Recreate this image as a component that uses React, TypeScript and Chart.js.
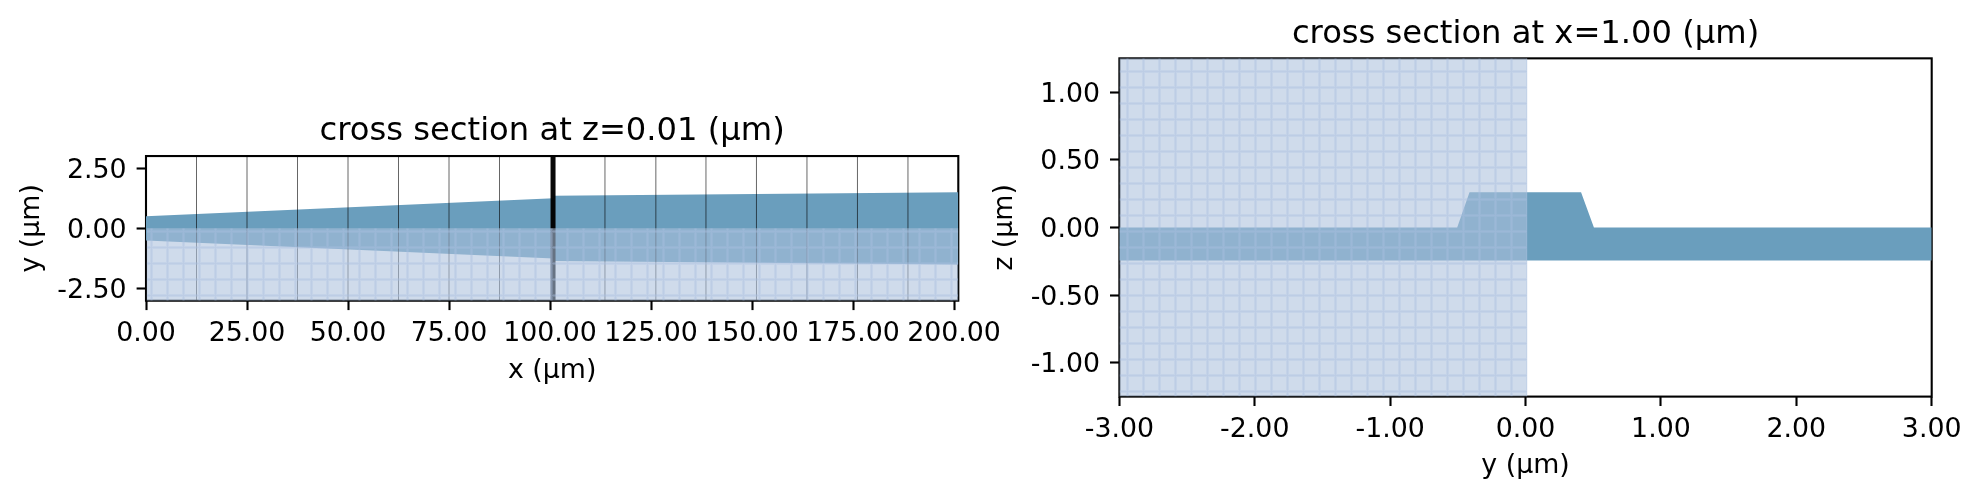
import React, { useEffect, useRef } from "react";
import { Chart, registerables } from "chart.js";

Chart.register(...registerables);

// ---- left panel: cross section at z
const leftTitle = "cross section at z=0.01 (µm)";
const leftXLabel = "x (µm)";
const leftYLabel = "y (µm)";
const leftXTicks = [0, 25, 50, 75, 100, 125, 150, 175, 200];
const leftYTicks = [-2.5, 0, 2.5];
const leftXRange = [0, 201.06];
const leftYRange = [-3, 3];
const taperX = [0, 100.9, 100.9, 201.06, 201.06, 100.9, 100.9, 0];
const taperY = [0.5, 1.25, 1.35, 1.5, -1.5, -1.35, -1.25, -0.5];
const leftRegionX = [0.2, 201.06, 201.06, 0.2];
const leftRegionY = [0.01, 0.01, -3, -3];
const meshLinesX = [12.5, 25, 37.5, 50, 62.5, 75, 87.5, 113.6, 126.2, 138.6, 151.1, 163.6, 176.1, 188.6];
const denseMeshX = [100.75];

// ---- right panel: cross section at x
const rightTitle = "cross section at x=1.00 (µm)";
const rightXLabel = "y (µm)";
const rightYLabel = "z (µm)";
const rightXTicks = [-3, -2, -1, 0, 1, 2, 3];
const rightYTicks = [-1, -0.5, 0, 0.5, 1];
const rightXRange = [-3, 3];
const rightYRange = [-1.25, 1.25];
const ridgeX = [-3, -0.505, -0.414, 0.41, 0.505, 3, 3, -3];
const ridgeY = [0, 0, 0.26, 0.26, 0, 0, -0.245, -0.245];
const rightRegionX = [-3, 0.012, 0.012, -3];
const rightRegionY = [1.25, 1.25, -1.25, -1.25];

const FONT = "'DejaVu Sans', sans-serif";
const TICK_PX = 26.8;
const TITLE_PX = 32.2;
const INK = "#000000";
const SOLID = "#6a9ebd";

function zip(xs: number[], ys: number[]) {
  return xs.map((x, i) => ({ x, y: ys[i] }));
}

function hatchPattern(centerX: number, centerY: number) {
  const size = 16;
  const tile = document.createElement("canvas");
  tile.width = size;
  tile.height = size;
  const c = tile.getContext("2d")!;
  const img = c.createImageData(size, size);
  const weight = (i: number, center: number) => {
    const raw = Math.abs(i - center);
    const d = Math.min(raw, size - raw);
    return d === 0 ? 1 : d === 1 ? 0.6 : 0;
  };
  for (let y = 0; y < size; y++) {
    for (let x = 0; x < size; x++) {
      const w = Math.max(weight(x, centerX), weight(y, centerY));
      const k = (y * size + x) * 4;
      img.data[k] = 172 - w;
      img.data[k + 1] = 193 - 2 * w;
      img.data[k + 2] = 221 + w;
      img.data[k + 3] = 255 * (0.58 + 0.2 * w);
    }
  }
  c.putImageData(img, 0, 0);
  return c.createPattern(tile, "repeat")!;
}

function verticals(xs: number[], yr: number[]) {
  const out: { x: number; y: number }[] = [];
  xs.forEach((x) => {
    out.push({ x, y: yr[0] }, { x, y: yr[1] }, { x, y: NaN });
  });
  return out;
}

const framePlugin = {
  id: "frame",
  beforeDatasetsDraw(chart: any) {
    const { ctx, chartArea: a } = chart;
    ctx.save();
    ctx.strokeStyle = INK;
    ctx.lineWidth = 2.1;
    ctx.strokeRect(a.left, a.top, a.right - a.left, a.bottom - a.top);
    ctx.restore();
  },
};

type PanelProps = {
  left: number;
  width: number;
  hatchX: number;
  title: string;
  xLabel: string;
  yLabel: string;
  xTicks: number[];
  yTicks: number[];
  xRange: number[];
  yRange: number[];
  shapeX: number[];
  shapeY: number[];
  regionX: number[];
  regionY: number[];
  lines: number[];
  dense: number[];
  padding: { left: number; right: number; top: number; bottom: number };
  yWidth: number;
  xHeight: number;
  titleGap: number;
};

function Panel(p: PanelProps) {
  const ref = useRef<HTMLCanvasElement>(null);
  useEffect(() => {
    const axisCommon = {
      type: "linear",
      border: { display: false },
      grid: {
        drawOnChartArea: false,
        drawTicks: true,
        tickLength: 9.4,
        tickWidth: 2.1,
        tickColor: INK,
      },
    };
    const tick = (v: any) => Number(v).toFixed(2);
    const chart = new Chart(ref.current!, {
      type: "scatter",
      data: {
        datasets: [
          {
            label: "region",
            data: zip(p.regionX, p.regionY),
            showLine: true,
            fill: "shape",
            backgroundColor: hatchPattern(p.hatchX, 7),
            borderWidth: 0,
            pointRadius: 0,
            order: 0,
          },
          {
            label: "mesh",
            data: verticals(p.lines, p.yRange),
            showLine: true,
            fill: false,
            borderColor: "rgba(0,0,0,0.6)",
            borderWidth: 1,
            pointRadius: 0,
            order: 1,
          },
          {
            label: "dense mesh",
            data: verticals(p.dense, p.yRange),
            showLine: true,
            fill: false,
            borderColor: "rgba(0,0,0,0.97)",
            borderWidth: 5,
            pointRadius: 0,
            order: 2,
          },
          {
            label: "waveguide",
            data: zip(p.shapeX, p.shapeY),
            showLine: true,
            fill: "shape",
            backgroundColor: SOLID,
            borderWidth: 0,
            pointRadius: 0,
            order: 3,
          },
        ],
      },
      options: {
        animation: false,
        responsive: false,
        devicePixelRatio: 1,
        events: [],
        layout: { autoPadding: false, padding: p.padding },
        plugins: {
          legend: { display: false },
          tooltip: { enabled: false },
          title: {
            display: true,
            text: p.title,
            fullSize: false,
            color: INK,
            font: { family: FONT, size: TITLE_PX, weight: "normal", lineHeight: 1.2 },
            padding: { top: 0, bottom: p.titleGap },
          },
        },
        scales: {
          x: {
            ...axisCommon,
            min: p.xRange[0],
            max: p.xRange[1],
            afterFit: (s: any) => {
              s.height = p.xHeight;
            },
            afterBuildTicks: (s: any) => {
              s.ticks = p.xTicks.map((value) => ({ value }));
            },
            ticks: {
              callback: tick,
              color: INK,
              autoSkip: false,
              maxRotation: 0,
              padding: 8,
              font: { family: FONT, size: TICK_PX },
            },
            title: {
              display: true,
              text: p.xLabel,
              color: INK,
              padding: 0,
              font: { family: FONT, size: TICK_PX, lineHeight: 1.2 },
            },
          },
          y: {
            ...axisCommon,
            min: p.yRange[0],
            max: p.yRange[1],
            afterFit: (s: any) => {
              s.width = p.yWidth;
            },
            afterBuildTicks: (s: any) => {
              s.ticks = p.yTicks.map((value) => ({ value }));
            },
            ticks: {
              callback: tick,
              color: INK,
              autoSkip: false,
              padding: 10,
              labelOffset: 2.5,
              font: { family: FONT, size: TICK_PX },
            },
            title: {
              display: true,
              text: p.yLabel,
              color: INK,
              padding: 0,
              font: { family: FONT, size: TICK_PX, lineHeight: 1.2 },
            },
          },
        },
      },
      plugins: [framePlugin],
    } as any);
    return () => chart.destroy();
  }, []);
  return (
    <canvas
      ref={ref}
      width={p.width}
      height={500}
      style={{ position: "absolute", left: p.left, top: 0, width: p.width, height: 500, display: "block" }}
    />
  );
}

export default function App() {
  return (
    <div style={{ position: "absolute", left: 0, top: 0, width: 1980, height: 500, background: "#ffffff", overflow: "hidden" }}>
      <Panel
        left={0}
        width={1010}
        hatchX={7}
        title={leftTitle}
        xLabel={leftXLabel}
        yLabel={leftYLabel}
        xTicks={leftXTicks}
        yTicks={leftYTicks}
        xRange={leftXRange}
        yRange={leftYRange}
        shapeX={taperX}
        shapeY={taperY}
        regionX={leftRegionX}
        regionY={leftRegionY}
        lines={meshLinesX}
        dense={denseMeshX}
        padding={{ left: 15.5, right: 51.7, top: 112.2, bottom: 112.8 }}
        yWidth={130.5}
        xHeight={86.5}
        titleGap={5.2}
      />
      <Panel
        left={970}
        width={1010}
        hatchX={13}
        title={rightTitle}
        xLabel={rightXLabel}
        yLabel={rightYLabel}
        xTicks={rightXTicks}
        yTicks={rightYTicks}
        xRange={rightXRange}
        yRange={rightYRange}
        shapeX={ridgeX}
        shapeY={ridgeY}
        regionX={rightRegionX}
        regionY={rightRegionY}
        lines={[]}
        dense={[]}
        padding={{ left: 18.9, right: 48.3, top: 15.5, bottom: 18 }}
        yWidth={130.5}
        xHeight={85.4}
        titleGap={4.2}
      />
    </div>
  );
}
